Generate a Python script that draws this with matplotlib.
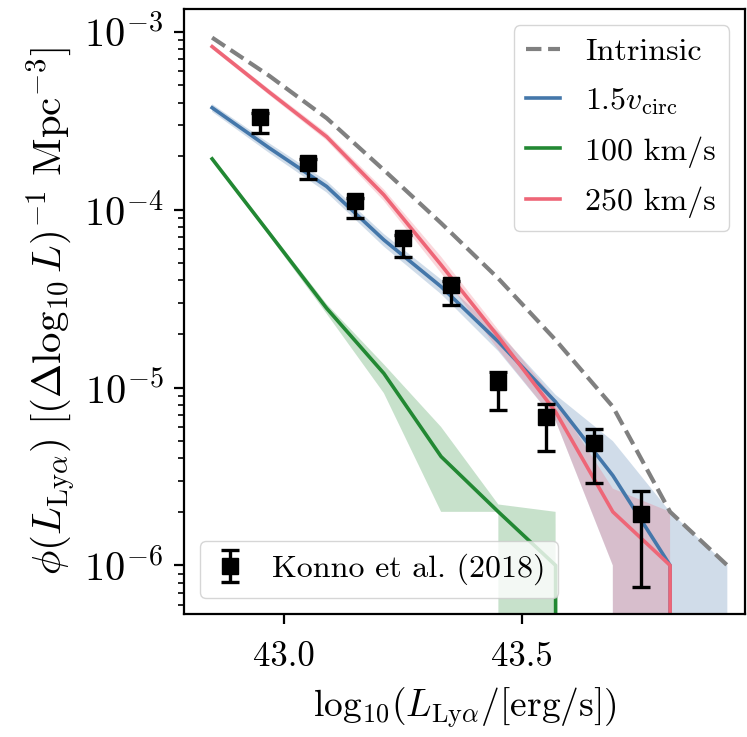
import numpy as np
import matplotlib
matplotlib.use("Agg")
import matplotlib.pyplot as plt

plt.rcParams.update({
    "font.family": "serif",
    "font.serif": ["cmr10", "DejaVu Serif"],
    "mathtext.fontset": "cm",
    "axes.formatter.use_mathtext": True,
    "axes.unicode_minus": True,
})

# Luminosity bin centres (log10 L_Lya [erg/s])
logL = [42.85, 42.97, 43.09, 43.21, 43.33, 43.45, 43.57, 43.69, 43.81, 43.93]

# Intrinsic luminosity function
phi_intrinsic = [9.27e-4, 5.65e-4, 3.27e-4, 1.67e-4, 8.4e-5, 4.1e-5, 1.85e-5, 7.8e-6, 2.0e-6, 1.0e-6]

# 1.5 v_circ model: median and 16-84 percentile band
phi_vcirc = [3.74e-4, 2.22e-4, 1.35e-4, 6.76e-5, 3.69e-5, 1.81e-5, 8.3e-6, 3.2e-6, 1.0e-6, 0.0]
phi_vcirc_lo = [3.55e-4, 2.08e-4, 1.25e-4, 6.2e-5, 3.35e-5, 1.6e-5, 6.5e-6, 1.0e-6, 0.0, 0.0]
phi_vcirc_hi = [3.92e-4, 2.36e-4, 1.45e-4, 7.3e-5, 4.05e-5, 2.05e-5, 9.1e-6, 5.0e-6, 2.0e-6, 1.0e-6]

# 100 km/s model
phi_100 = [1.93e-4, 7.36e-5, 2.79e-5, 1.2e-5, 4.09e-6, 2.0e-6, 1.0e-6, 0.0, 0.0, 0.0]
phi_100_lo = [1.88e-4, 7.1e-5, 2.6e-5, 9.3e-6, 2.0e-6, 2.0e-6, 0.0, 0.0, 0.0, 0.0]
phi_100_hi = [1.98e-4, 7.6e-5, 2.95e-5, 1.35e-5, 6.0e-6, 2.2e-6, 2.0e-6, 0.0, 0.0, 0.0]

# 250 km/s model
phi_250 = [8.25e-4, 4.57e-4, 2.57e-4, 1.21e-4, 4.89e-5, 1.93e-5, 7.3e-6, 2.0e-6, 1.0e-6, 0.0]
phi_250_lo = [8.0e-4, 4.4e-4, 2.45e-4, 1.12e-4, 4.4e-5, 1.63e-5, 6.5e-6, 1.0e-6, 0.0, 0.0]
phi_250_hi = [8.5e-4, 4.75e-4, 2.7e-4, 1.3e-4, 5.44e-5, 2.11e-5, 8.5e-6, 2.7e-6, 2.0e-6, 0.0]

# Konno et al. (2018) observed luminosity function
konno_logL = [42.95, 43.05, 43.15, 43.25, 43.35, 43.45, 43.55, 43.65, 43.75]
konno_phi = [3.33e-4, 1.84e-4, 1.12e-4, 6.9e-5, 3.77e-5, 1.08e-5, 6.8e-6, 4.86e-6, 1.94e-6]
konno_lo = [2.71e-4, 1.48e-4, 9.0e-5, 5.44e-5, 2.91e-5, 7.48e-6, 4.4e-6, 2.9e-6, 7.6e-7]
konno_hi = [3.49e-4, 1.93e-4, 1.17e-4, 7.2e-5, 3.98e-5, 1.23e-5, 8.1e-6, 5.87e-6, 2.62e-6]

c_blue = "#4477AA"
c_green = "#228833"
c_red = "#EE6677"

fig = plt.figure(figsize=(7.47, 7.37), dpi=100)
ax = fig.add_axes([0.2463, 0.1669, 0.7510, 0.8205])
ax.set_yscale("log")

lw = 2.6
ax.fill_between(logL, phi_vcirc_lo, phi_vcirc_hi, color=c_blue, alpha=0.25, lw=0)
ax.fill_between(logL, phi_100_lo, phi_100_hi, color=c_green, alpha=0.25, lw=0)
ax.fill_between(logL, phi_250_lo, phi_250_hi, color=c_red, alpha=0.25, lw=0)

l_int, = ax.plot(logL, phi_intrinsic, ls="--", color="gray", lw=3.0, label="Intrinsic")
l_vc, = ax.plot(logL, phi_vcirc, color=c_blue, lw=lw, label=r"$1.5v_{\rm circ}$")
l_100, = ax.plot(logL, phi_100, color=c_green, lw=lw, label="100 km/s")
l_250, = ax.plot(logL, phi_250, color=c_red, lw=lw, label="250 km/s")

kphi = np.array(konno_phi)
yerr = [kphi - np.array(konno_lo), np.array(konno_hi) - kphi]
eb = ax.errorbar(konno_logL, konno_phi, yerr=yerr, fmt="s", color="black", ms=11,
                 elinewidth=2.4, capsize=6.5, capthick=2.4, zorder=5,
                 label="Konno et al. (2018)")

ax.set_xlim(42.791, 43.967)
ax.set_ylim(5.33e-7, 1.338e-3)
ax.set_xticks([43.0, 43.5])
ax.set_xticklabels(["43.0", "43.5"])

ax.tick_params(axis="both", which="major", length=7, width=1.6, pad=8)
ax.tick_params(axis="x", which="major", labelsize=25, pad=13)
ax.tick_params(axis="y", which="major", labelsize=29)
ax.tick_params(axis="both", which="minor", length=4, width=1.2)
for s in ax.spines.values():
    s.set_linewidth(1.6)

ax.set_xlabel(r"$\mathrm{log}_{10}(L_{\rm Ly\alpha}/[{\rm erg/s}])$", fontsize=27, labelpad=9)
ax.set_ylabel(r"$\phi(L_{\rm Ly\alpha})\ [(\Delta\log_{10}L)^{-1}\ {\rm Mpc}^{-3}]$", fontsize=29.5)

leg1 = ax.legend(handles=[l_int, l_vc, l_100, l_250], loc="upper right",
                 fontsize=23, handlelength=1.05, framealpha=0.8, labelspacing=0.6)
ax.add_artist(leg1)
ax.legend(handles=[eb], loc="lower left", fontsize=23, handlelength=1.05, framealpha=0.8)

fig.savefig("out.png", dpi=100)
